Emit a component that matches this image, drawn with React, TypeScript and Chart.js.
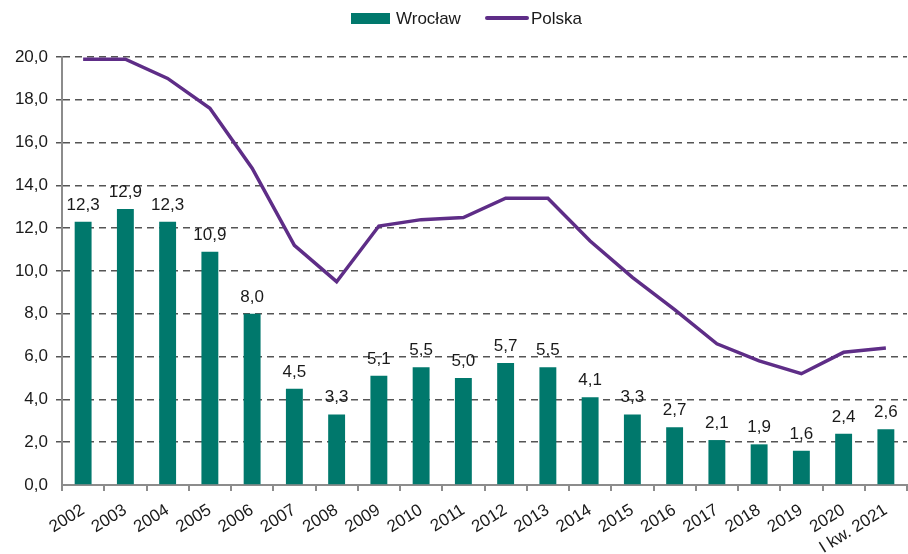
import React, { useEffect, useRef } from "react";
import { Chart, registerables } from "chart.js";

Chart.register(...registerables);

const categories = [
  "2002", "2003", "2004", "2005", "2006", "2007", "2008", "2009", "2010", "2011",
  "2012", "2013", "2014", "2015", "2016", "2017", "2018", "2019", "2020", "I kw. 2021",
];
const wroclaw = [12.3, 12.9, 12.3, 10.9, 8.0, 4.5, 3.3, 5.1, 5.5, 5.0, 5.7, 5.5, 4.1, 3.3, 2.7, 2.1, 1.9, 1.6, 2.4, 2.6];
const polska = [19.9, 19.9, 19.0, 17.6, 14.8, 11.2, 9.5, 12.1, 12.4, 12.5, 13.4, 13.4, 11.4, 9.7, 8.2, 6.6, 5.8, 5.2, 6.2, 6.4];
const yTicks = [0, 2, 4, 6, 8, 10, 12, 14, 16, 18, 20];

const TEAL = "#00786c";
const PURPLE = "#5e2d87";
const FONT = "'Liberation Sans', Arial, sans-serif";

const fmt = (v: number) => v.toFixed(1).replace(".", ",");

const barLabels = {
  id: "barLabels",
  afterDatasetsDraw(chart: any) {
    const ctx = chart.ctx;
    const meta = chart.getDatasetMeta(0);
    ctx.save();
    ctx.font = `17px ${FONT}`;
    ctx.fillStyle = "#1a1a1a";
    ctx.textAlign = "center";
    ctx.textBaseline = "alphabetic";
    meta.data.forEach((el: any, i: number) => {
      ctx.fillText(fmt(chart.data.datasets[0].data[i]), el.x, el.y - 12);
    });
    ctx.restore();
  },
};

const customLegend = {
  id: "customLegend",
  afterDraw(chart: any) {
    const ctx = chart.ctx;
    ctx.save();
    ctx.font = `17px ${FONT}`;
    ctx.fillStyle = "#1a1a1a";
    ctx.textBaseline = "middle";
    ctx.textAlign = "left";
    const y = 18;
    ctx.fillStyle = TEAL;
    ctx.fillRect(351, y - 5, 39, 11);
    ctx.fillStyle = "#1a1a1a";
    ctx.fillText(chart.data.datasets[0].label, 396, y + 1);
    ctx.strokeStyle = PURPLE;
    ctx.lineWidth = 4;
    ctx.lineCap = "round";
    ctx.beginPath();
    ctx.moveTo(487, y);
    ctx.lineTo(527, y);
    ctx.stroke();
    ctx.fillText(chart.data.datasets[1].label, 531, y + 1);
    ctx.restore();
  },
};

export default function App() {
  const ref = useRef<HTMLCanvasElement>(null);
  useEffect(() => {
    document.body.style.margin = "0";
    const chart = new Chart(ref.current!, {
      type: "bar",
      data: {
        labels: categories,
        datasets: [
          {
            type: "bar",
            label: "Wrocław",
            data: wroclaw,
            backgroundColor: TEAL,
            categoryPercentage: 1,
            barPercentage: 0.4,
            order: 2,
          },
          {
            type: "line",
            label: "Polska",
            data: polska,
            borderColor: PURPLE,
            backgroundColor: PURPLE,
            borderWidth: 3.5,
            pointRadius: 0,
            tension: 0,
            order: 1,
          },
        ],
      },
      options: {
        animation: false,
        responsive: false,
        maintainAspectRatio: false,
        layout: { padding: { top: 57, right: 1, left: 0, bottom: 0 } },
        plugins: {
          legend: { display: false },
          tooltip: { enabled: false },
        },
        scales: {
          x: {
            offset: true,
            grid: {
              offset: true,
              drawOnChartArea: false,
              drawTicks: true,
              tickLength: 6,
              color: "#8c8c8c",
              lineWidth: 2,
            },
            border: { color: "#8c8c8c", width: 2 },
            ticks: {
              font: { family: FONT, size: 17 },
              color: "#1a1a1a",
              minRotation: 32,
              maxRotation: 32,
              autoSkip: false,
              padding: 9,
            },
            afterFit(scale: any) {
              scale.height = 69;
            },
          },
          y: {
            min: 0,
            max: 20,
            afterBuildTicks(scale: any) {
              scale.ticks = yTicks.map((v) => ({ value: v }));
            },
            grid: {
              color: (c: any) => (c.tick && c.tick.value === 0 ? "rgba(0,0,0,0)" : "#555555"),
              lineWidth: 1.5,
              drawTicks: true,
              tickLength: 6,
            },
            border: { color: "#8c8c8c", width: 2, dash: [7, 5] },
            ticks: {
              font: { family: FONT, size: 17 },
              color: "#1a1a1a",
              padding: 8,
              callback: (v: any) => fmt(Number(v)),
            },
            afterFit(scale: any) {
              scale.width = 62;
            },
          },
        },
      },
      plugins: [barLabels, customLegend],
    });
    return () => chart.destroy();
  }, []);
  return (
    <div style={{ width: 908, height: 554 }}>
      <canvas ref={ref} width={908} height={554} />
    </div>
  );
}
